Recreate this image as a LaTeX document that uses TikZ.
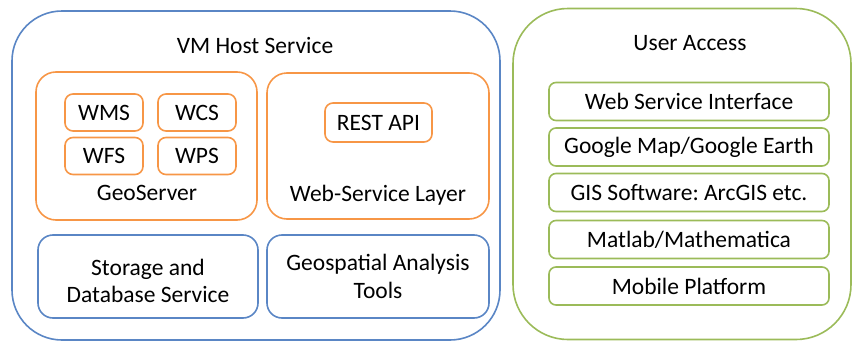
\documentclass[tikz,border=0pt]{standalone}
\usepackage{fontspec}
\setmainfont{Carlito}
\frenchspacing
\definecolor{cblue}{HTML}{5A86C5}
\definecolor{corange}{HTML}{F79646}
\definecolor{cgreen}{HTML}{9BBB59}
\begin{document}
\begin{tikzpicture}[x=1pt,y=-1pt,
  every node/.style={font=\fontsize{23.5}{27.5}\selectfont, inner sep=0pt, align=center},
  box/.style={draw, line width=1.6pt, rounded corners=#1},
  bluebox/.style={box=15pt, draw=cblue},
  orangebox/.style={box=20pt, draw=corange},
  small/.style={box=8pt, draw=corange, minimum width=78pt, minimum height=37pt},
  greenbox/.style={box=7pt, draw=cgreen, minimum width=280pt, minimum height=38pt}]
\useasboundingbox (0,0) rectangle (855,343);
% outer containers
\node[box=50pt, draw=cblue, minimum width=488pt, minimum height=329pt] (vm) at (256,175.5) {};
\node[box=55pt, draw=cgreen, minimum width=338pt, minimum height=331pt] (ua) at (682,174) {};
\node (vmt) at (255,46) {VM Host Service};
\node (uat) at (690,43) {User Access};
% GeoServer
\node[orangebox, minimum width=221pt, minimum height=148pt] (geo) at (146.5,146) {};
\node[small] (wms) at (104,112.5) {WMS};
\node[small] (wcs) at (197,112.5) {WCS};
\node[small] (wfs) at (104,156) {WFS};
\node[small] (wps) at (197,156) {WPS};
\node (geot) at (147,193) {GeoServer};
% Web-service layer
\node[orangebox, minimum width=222pt, minimum height=146pt] (web) at (378,146) {};
\node[box=8pt, draw=corange, minimum width=107pt, minimum height=39pt] (rest) at (378.5,122.5) {REST API};
\node (webt) at (378,195) {Web-Service Layer};
% bottom boxes
\node[bluebox, minimum width=220pt, minimum height=83pt] (stor) at (148,276.5) {};
\node (stort) at (148,281) {Storage and\\Database Service};
\node[bluebox, minimum width=222pt, minimum height=83pt] (gat) at (378,276.5) {Geospatial Analysis\\Tools};
% user access list
\node[greenbox] (u1) at (689,101.5) {Web Service Interface};
\node[greenbox] (u2) at (689,147) {Google Map/Google Earth};
\node[greenbox] (u3) at (689,192.5) {GIS Software: ArcGIS etc.};
\node[greenbox] (u4) at (689,239.5) {Matlab/Mathematica};
\node[greenbox] (u5) at (689,286) {Mobile Platform};
\end{tikzpicture}
\end{document}
